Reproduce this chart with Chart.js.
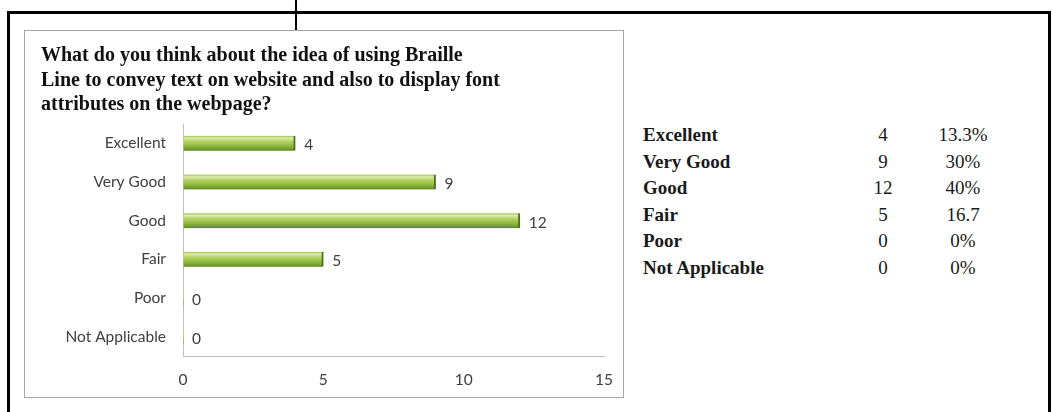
<!DOCTYPE html>
<html>
<head>
<meta charset="utf-8">
<script src="https://cdn.jsdelivr.net/npm/chart.js@4.4.1/dist/chart.umd.min.js"></script>
<style>
  body { margin: 0; background: #fff; width: 1053px; height: 412px; overflow: hidden; position: relative; }
  #frame { position: absolute; left: 7px; top: 11px; width: 1038px; height: 420px;
           border: 3px solid #000; border-bottom: none; }
  #mark { position: absolute; left: 295px; top: 0; width: 2px; height: 31px; background: #000; }
  #chartBox { position: absolute; left: 24px; top: 30px; width: 598px; height: 366px;
              border: 1px solid #a6a6a6; background: #fff; }
  #summary { position: absolute; left: 643px; top: 122px; border-collapse: collapse;
             font-family: "Liberation Serif", "Times New Roman", serif; font-size: 19px; color: #1a1a1a; }
  #summary td { padding: 0; height: 26.6px; line-height: 26.6px; }
  #summary td.name { width: 210px; font-weight: bold; }
  #summary td.count { width: 60px; text-align: center; }
  #summary td.pct { width: 100px; text-align: center; }
</style>
</head>
<body>
<div id="frame"></div>
<div id="mark"></div>
<div id="chartBox"><canvas id="ratingChart"></canvas></div>
<table id="summary"></table>

<script>
const titleLines = [
    'What do you think about the idea of using Braille',
    'Line to convey text on website and also to display font',
    'attributes on the webpage?'
];
const ratings = ['Excellent', 'Very Good', 'Good', 'Fair', 'Poor', 'Not Applicable'];
const counts = [4, 9, 12, 5, 0, 0];
const percents = ['13.3%', '30%', '40%', '16.7', '0%', '0%'];
const xTicks = [0, 5, 10, 15];

// Summary table next to the chart
const table = document.getElementById('summary');
ratings.forEach((name, i) => {
    const row = table.insertRow();
    row.innerHTML = `<td class="name">${name}</td><td class="count">${counts[i]}</td><td class="pct">${percents[i]}</td>`;
});

// Glossy green fill for each bar, built across the bar's thickness
function barFill(ctx) {
    const chart = ctx.chart;
    const yScale = chart.scales.y;
    if (ctx.type !== 'data' || !yScale) return '#8db53c';
    const c = yScale.getPixelForValue(ctx.dataIndex);
    if (!isFinite(c)) return '#8db53c';
    const g = chart.ctx.createLinearGradient(0, c - 7.5, 0, c + 7.5);
    g.addColorStop(0, '#9cc24a');
    g.addColorStop(0.15, '#dcedab');
    g.addColorStop(0.35, '#b7d56a');
    g.addColorStop(0.7, '#8db53c');
    g.addColorStop(1, '#5e8a25');
    return g;
}

// Value labels to the right of each bar
const valueLabels = {
    id: 'valueLabels',
    afterDatasetsDraw(chart) {
        const ctx = chart.ctx;
        const meta = chart.getDatasetMeta(0);
        ctx.save();
        ctx.font = '15.5px Lato';
        ctx.fillStyle = '#404040';
        ctx.textAlign = 'left';
        ctx.textBaseline = 'middle';
        meta.data.forEach((bar, i) => {
            ctx.fillText(String(counts[i]), bar.x + 9, bar.y + 2);
        });
        ctx.restore();
    }
};

new Chart(document.getElementById('ratingChart'), {
    type: 'bar',
    data: {
        labels: ratings,
        datasets: [{
            data: counts,
            backgroundColor: barFill,
            borderColor: '#4d7318',
            borderWidth: { top: 0, right: 2, bottom: 0, left: 0 },
            borderSkipped: false,
            barThickness: 15
        }]
    },
    options: {
        indexAxis: 'y',
        responsive: true,
        maintainAspectRatio: false,
        animation: false,
        layout: { padding: { left: 16, right: 19, top: 0, bottom: 0 } },
        plugins: {
            legend: { display: false },
            tooltip: { enabled: false },
            title: {
                display: true,
                text: titleLines,
                align: 'start',
                color: '#111',
                font: { family: 'Liberation Serif', size: 20, weight: 'bold', lineHeight: '24.5px' },
                padding: { top: 13, bottom: 6.5 }
            }
        },
        scales: {
            x: {
                min: 0,
                max: 15,
                afterBuildTicks: (scale) => { scale.ticks = xTicks.map(v => ({ value: v })); },
                afterFit: (scale) => {
                    scale.height = 41;
                    // the tick labels fit inside the layout padding
                    scale.paddingLeft = 0;
                    scale.paddingRight = 0;
                },
                grid: { display: true, drawOnChartArea: false, drawTicks: false },
                border: { color: '#bfbfbf', width: 1 },
                ticks: { color: '#404040', padding: 15, font: { family: 'Lato', size: 15.5 } }
            },
            y: {
                afterFit: (scale) => { scale.width = 142; },
                grid: { display: true, drawOnChartArea: false, drawTicks: false },
                border: { color: '#bfbfbf', width: 1 },
                ticks: { color: '#404040', padding: 17, font: { family: 'Lato', size: 15.5 } }
            }
        }
    },
    plugins: [valueLabels]
});
</script>
</body>
</html>
